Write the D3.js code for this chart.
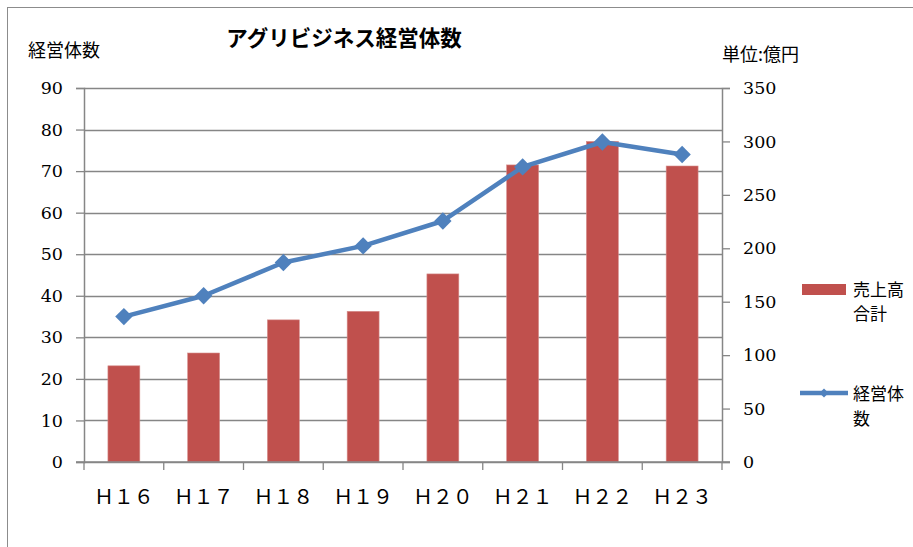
<!DOCTYPE html>
<html>
<head>
<meta charset="utf-8">
<script src="https://cdn.jsdelivr.net/npm/d3@7"></script>
<style>
  body { margin: 0; background: #fff; }
  svg { display: block; }
  .jp { font-family: "Noto Sans CJK JP", "Noto Sans", sans-serif; }
  .num { font-family: "DejaVu Serif", "Liberation Serif", serif; }
</style>
</head>
<body>
<div id="chart"></div>
<script>
// data
const categories = ['Ｈ１６', 'Ｈ１７', 'Ｈ１８', 'Ｈ１９', 'Ｈ２０', 'Ｈ２１', 'Ｈ２２', 'Ｈ２３']
const sales = [90, 102, 133, 141, 176, 278, 300, 277]      // 売上高合計 (億円, right axis)
const farms = [35, 40, 48, 52, 58, 71, 77, 74]             // 経営体数 (left axis)
const leftTicks = [0, 10, 20, 30, 40, 50, 60, 70, 80, 90]
const rightTicks = [0, 50, 100, 150, 200, 250, 300, 350]

const width = 913, height = 547
const margins = { left: 84, top: 88, right: 913 - 722, bottom: 547 - 462 }

const BAR = '#C0504D', LINE = '#4F81BD', AXIS = '#868686'

const svg = d3.select('#chart').append('svg')
    .attr('width', width)
    .attr('height', height)

// outer frame (right / bottom edges fall outside the window)
svg.append('rect')
    .attr('x', 7.5).attr('y', 7.5)
    .attr('width', 940).attr('height', 580)
    .attr('fill', 'none')
    .attr('stroke', '#8c8c8c')
    .attr('stroke-width', 1)

const x = d3.scaleBand()
    .domain(categories)
    .range([margins.left, width - margins.right])
    .padding(0)

const yLeft = d3.scaleLinear().domain([0, 90]).range([height - margins.bottom, margins.top])
const yRight = d3.scaleLinear().domain([0, 350]).range([height - margins.bottom, margins.top])

/**
 * gridlines follow the left axis
 */
svg.append('g')
    .selectAll('line')
    .data(leftTicks)
    .join('line')
    .attr('x1', margins.left)
    .attr('x2', width - margins.right)
    .attr('y1', d => Math.round(yLeft(d)) + 0.5)
    .attr('y2', d => Math.round(yLeft(d)) + 0.5)
    .attr('stroke', AXIS)
    .attr('stroke-width', 1.3)

// bars
const barW = x.bandwidth() * 0.4
svg.append('g')
    .selectAll('rect')
    .data(sales)
    .join('rect')
    .attr('x', (d, i) => x(categories[i]) + (x.bandwidth() - barW) / 2)
    .attr('y', d => yRight(d))
    .attr('width', barW)
    .attr('height', d => yRight(0) - yRight(d))
    .attr('fill', BAR)
    .attr('stroke', '#d58c8a')
    .attr('stroke-width', 0.6)

// axes
const leftAxis = svg.append('g')
    .attr('transform', `translate(${margins.left},0)`)
    .call(d3.axisLeft(yLeft).tickValues(leftTicks).tickSize(8).tickPadding(13))
const rightAxis = svg.append('g')
    .attr('transform', `translate(${width - margins.right},0)`)
    .call(d3.axisRight(yRight).tickValues(rightTicks).tickSize(8).tickPadding(13))

;[leftAxis, rightAxis].forEach(g => {
    g.select('.domain').attr('stroke', AXIS).attr('stroke-width', 1.5)
    g.selectAll('.tick line').attr('stroke', AXIS).attr('stroke-width', 1.3)
    g.selectAll('.tick text')
        .attr('class', 'num')
        .attr('fill', '#000')
        .attr('font-size', '17.5px')
})

// x axis: baseline, boundary ticks, labels
const base = yLeft(0)
svg.append('line')
    .attr('x1', margins.left - 8).attr('x2', width - margins.right + 8)
    .attr('y1', base).attr('y2', base)
    .attr('stroke', AXIS).attr('stroke-width', 1.5)

svg.append('g')
    .selectAll('line')
    .data(categories.concat(['end']))
    .join('line')
    .attr('x1', (d, i) => margins.left + i * x.bandwidth())
    .attr('x2', (d, i) => margins.left + i * x.bandwidth())
    .attr('y1', base)
    .attr('y2', base + 8)
    .attr('stroke', AXIS)
    .attr('stroke-width', 1.3)

svg.append('g')
    .selectAll('text')
    .data(categories)
    .join('text')
    .attr('class', 'jp')
    .attr('x', d => x(d) + x.bandwidth() / 2)
    .attr('y', 504)
    .attr('text-anchor', 'middle')
    .attr('font-size', '20px')
    .attr('fill', '#000')
    .text(d => d)

// line series on the left axis
const line = d3.line()
    .x((d, i) => x(categories[i]) + x.bandwidth() / 2)
    .y(d => yLeft(d))

svg.append('path')
    .datum(farms)
    .attr('d', line)
    .attr('fill', 'none')
    .attr('stroke', LINE)
    .attr('stroke-width', 4.5)
    .attr('stroke-linejoin', 'round')

const diamond = d3.symbol(d3.symbolSquare, 150)
svg.append('g')
    .selectAll('path')
    .data(farms)
    .join('path')
    .attr('d', diamond)
    .attr('transform', (d, i) => `translate(${x(categories[i]) + x.bandwidth() / 2},${yLeft(d)}) rotate(45)`)
    .attr('fill', LINE)

/**
 * titles
 */
svg.append('text')
    .attr('class', 'jp')
    .attr('x', 344).attr('y', 46)
    .attr('text-anchor', 'middle')
    .attr('font-size', '21.5px')
    .attr('font-weight', 'bold')
    .text('アグリビジネス経営体数')

svg.append('text')
    .attr('class', 'jp')
    .attr('x', 28).attr('y', 57)
    .attr('font-size', '18px')
    .text('経営体数')

svg.append('text')
    .attr('class', 'jp')
    .attr('x', 722).attr('y', 61)
    .attr('font-size', '18px')
    .text('単位:億円')

// legend
const legend = svg.append('g').attr('class', 'jp').attr('font-size', '17px')

legend.append('rect')
    .attr('x', 802).attr('y', 284)
    .attr('width', 44).attr('height', 11)
    .attr('fill', BAR)

legend.append('text').attr('x', 853).attr('y', 296).text('売上高')
legend.append('text').attr('x', 853).attr('y', 320).text('合計')

legend.append('line')
    .attr('x1', 800).attr('x2', 848)
    .attr('y1', 393).attr('y2', 393)
    .attr('stroke', LINE).attr('stroke-width', 4.5)
legend.append('path')
    .attr('d', d3.symbol(d3.symbolSquare, 40))
    .attr('transform', 'translate(824,393) rotate(45)')
    .attr('fill', LINE)

legend.append('text').attr('x', 853).attr('y', 400).text('経営体')
legend.append('text').attr('x', 853).attr('y', 425).text('数')
</script>
</body>
</html>
